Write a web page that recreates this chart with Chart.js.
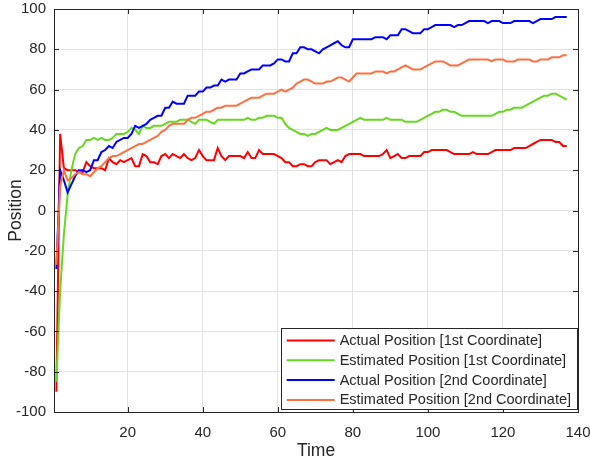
<!DOCTYPE html>
<html lang="en">
<head>
  <meta charset="UTF-8">
  <title>Position Tracking</title>
  <script src="https://cdn.jsdelivr.net/npm/chart.js"></script>
  <style>
    html, body { margin: 0; padding: 0; background: #fff; }
    canvas { display: block; }
  </style>
</head>
<body>
<canvas id="posChart" width="590" height="463"></canvas>

<script>
  // sampled positions, one value per time step starting at t = 1
  const actual1st = [
    -90, 38, 21, 20, 20, 20, 19, 19, 24, 22,
    21, 21, 21, 20, 26, 24, 23, 25, 24, 25,
    26, 22, 22, 28, 27, 24, 24, 23, 27, 28,
    26, 28, 27, 26, 28, 26, 25, 26, 30, 27,
    25, 25, 25, 31, 27, 25, 27, 27, 27, 27,
    26, 29, 26, 26, 30, 28, 28, 28, 28, 27,
    26, 24, 24, 22, 22, 23, 23, 22, 22, 24,
    25, 25, 25, 23, 24, 25, 24, 27, 28, 28,
    28, 28, 27, 27, 27, 27, 27, 28, 30, 26,
    27, 28, 26, 26, 27, 27, 27, 27, 29, 29,
    30, 30, 30, 30, 30, 29, 28, 28, 28, 28,
    28, 29, 28, 28, 28, 28, 29, 30, 30, 30,
    30, 30, 31, 31, 31, 31, 32, 33, 34, 35,
    35, 35, 35, 34, 34, 32, 32
  ];
  const estimated1st = [
    -85, -40, -12, 8, 20, 28, 31, 32, 35, 35,
    36, 35, 36, 35, 35, 36, 38, 38, 38, 39,
    41, 40, 38, 42, 41, 41, 42, 42, 42, 43,
    44, 44, 44, 45, 45, 45, 44, 43, 45, 45,
    45, 44, 43, 45, 45, 45, 45, 45, 45, 45,
    45, 46, 45, 45, 46, 46, 47, 47, 47, 46,
    46, 43, 41, 40, 39, 38, 38, 37, 38, 38,
    39, 40, 41, 40, 40, 40, 41, 42, 43, 44,
    45, 46, 45, 45, 45, 45, 45, 45, 46, 45,
    45, 45, 45, 44, 44, 44, 44, 45, 46, 47,
    48, 49, 49, 50, 50, 49, 49, 48, 47, 47,
    47, 47, 47, 47, 47, 47, 47, 48, 49, 49,
    50, 50, 51, 51, 51, 52, 53, 54, 55, 56,
    57, 57, 58, 58, 57, 56, 55
  ];
  const actual2nd = [
    -29, 20, 15, 9, 13, 17, 20, 20, 19, 20,
    25, 25, 29, 30, 32, 31, 34, 35, 36, 36,
    38, 42, 41, 42, 43, 45, 46, 47, 47, 51,
    51, 54, 53, 53, 53, 57, 57, 57, 59, 59,
    61, 61, 62, 62, 65, 64, 65, 65, 65, 68,
    68, 69, 70, 70, 70, 72, 72, 72, 73, 75,
    75, 74, 74, 78, 78, 81, 81, 80, 80, 79,
    78, 80, 81, 82, 83, 84, 82, 81, 81, 85,
    85, 85, 85, 85, 85, 86, 86, 86, 85, 87,
    87, 87, 90, 90, 89, 88, 88, 88, 90, 90,
    91, 92, 92, 92, 92, 92, 91, 92, 92, 93,
    94, 94, 94, 94, 94, 93, 94, 94, 94, 93,
    93, 93, 94, 94, 94, 94, 94, 93, 94, 95,
    95, 95, 95, 96, 96, 96, 96
  ];
  const estimated2nd = [
    -27, 12, 20, 15, 16, 18, 19, 18, 18, 17,
    19, 21, 22, 24, 26, 27, 27, 28, 29, 30,
    31, 32, 33, 33, 34, 35, 36, 37, 39, 40,
    42, 43, 43, 43, 43, 45, 46, 46, 47, 48,
    49, 49, 50, 51, 51, 52, 52, 52, 52, 53,
    54, 55, 56, 56, 56, 57, 58, 58, 58, 59,
    60, 59, 60, 61, 63, 64, 65, 65, 64, 63,
    63, 63, 64, 64, 65, 66, 66, 65, 64, 66,
    68, 68, 68, 68, 68, 69, 69, 69, 68, 69,
    69, 70, 71, 72, 71, 70, 70, 70, 71, 72,
    73, 74, 74, 74, 73, 72, 72, 72, 73, 74,
    75, 75, 75, 75, 75, 75, 74, 75, 75, 75,
    74, 74, 74, 75, 75, 75, 75, 74, 74, 75,
    75, 75, 76, 76, 76, 77, 77
  ];

  const xTicks = [20, 40, 60, 80, 100, 120, 140];
  const yTicks = [-100, -80, -60, -40, -20, 0, 20, 40, 60, 80, 100];

  const seriesNames = [
    'Actual Position [1st Coordinate]',
    'Estimated Position [1st Coordinate]',
    'Actual Position [2nd Coordinate]',
    'Estimated Position [2nd Coordinate]'
  ];
  const seriesColors = ['#ff0000', '#66d91f', '#0000ff', '#ff7040'];
  const seriesValues = [actual1st, estimated1st, actual2nd, estimated2nd];

  const FONT = "'Liberation Sans', Arial, sans-serif";
  const INK = '#262626';

  // boxed axes with inward ticks on all four sides, plus the legend
  const boxedAxes = {
    id: 'boxedAxes',
    afterDraw(chart) {
      const { ctx, chartArea: a, scales: { x, y } } = chart;
      const tick = 5;
      ctx.save();
      ctx.strokeStyle = INK;
      ctx.lineWidth = 1;
      ctx.beginPath();
      xTicks.forEach(v => {
        const px = Math.round(x.getPixelForValue(v)) + 0.5;
        ctx.moveTo(px, a.bottom); ctx.lineTo(px, a.bottom - tick);
        ctx.moveTo(px, a.top); ctx.lineTo(px, a.top + tick);
      });
      yTicks.forEach(v => {
        const py = Math.round(y.getPixelForValue(v)) + 0.5;
        ctx.moveTo(a.left, py); ctx.lineTo(a.left + tick, py);
        ctx.moveTo(a.right, py); ctx.lineTo(a.right - tick, py);
      });
      ctx.stroke();
      ctx.strokeRect(Math.round(a.left) + 0.5, Math.round(a.top) + 0.5,
                     Math.round(a.right - a.left), Math.round(a.bottom - a.top));

      // legend in the lower right corner
      ctx.font = '14.5px ' + FONT;
      const textW = Math.max(...seriesNames.map(s => ctx.measureText(s).width));
      const sample = 48, rowH = 19.8;
      const w = 6 + sample + 5 + textW + 6;
      const h = 81;
      const right = Math.round(a.right) - 1;
      const bottom = Math.round(a.bottom) - 3;
      const left = right - w, top = bottom - h;
      ctx.fillStyle = '#fff';
      ctx.fillRect(left, top, w, h);
      ctx.strokeStyle = INK;
      ctx.strokeRect(Math.round(left) + 0.5, top + 0.5, Math.round(w), h);
      ctx.textBaseline = 'middle';
      seriesNames.forEach((name, i) => {
        const cy = top + 12.5 + i * rowH;
        ctx.strokeStyle = seriesColors[i];
        ctx.lineWidth = 2;
        ctx.beginPath();
        ctx.moveTo(left + 6, cy);
        ctx.lineTo(left + 6 + sample, cy);
        ctx.stroke();
        ctx.fillStyle = INK;
        ctx.fillText(name, left + 6 + sample + 5, cy + 0.5);
      });
      ctx.restore();
    }
  };

  const datasets = seriesValues.map((vals, i) => ({
    label: seriesNames[i],
    data: vals.map((v, k) => ({ x: k + 1, y: v })),
    borderColor: seriesColors[i],
    borderWidth: 2,
    pointRadius: 0,
    tension: 0,
    fill: false,
    order: seriesValues.length - i
  }));

  new Chart(document.getElementById('posChart').getContext('2d'), {
    type: 'line',
    data: { datasets },
    options: {
      responsive: false,
      animation: false,
      layout: { padding: { left: 0, right: 12, top: 9, bottom: 0 } },
      plugins: { legend: { display: false }, tooltip: { enabled: false } },
      scales: {
        x: {
          type: 'linear',
          min: 0.37,
          max: 140,
          afterBuildTicks: axis => { axis.ticks = xTicks.map(v => ({ value: v })); },
          afterFit: axis => {
            axis.height = 51;
            axis.paddingLeft = 0;
            axis.paddingRight = 0;
          },
          grid: { color: '#e2e2e2', drawTicks: false },
          border: { display: false },
          ticks: { color: INK, font: { family: FONT, size: 15 }, padding: 12, maxRotation: 0 },
          title: { display: true, text: 'Time', color: INK, font: { family: FONT, size: 17.5 }, padding: { top: 0, bottom: 1 } }
        },
        y: {
          min: -100,
          max: 100,
          afterBuildTicks: axis => { axis.ticks = yTicks.map(v => ({ value: v })); },
          afterFit: axis => {
            axis.width = 54;
            axis.paddingTop = 0;
            axis.paddingBottom = 0;
          },
          grid: { color: '#e2e2e2', drawTicks: false },
          border: { display: false },
          ticks: { color: INK, font: { family: FONT, size: 15 }, padding: 8 },
          title: { display: true, text: 'Position', color: INK, font: { family: FONT, size: 17.5 }, padding: { top: 6, bottom: 0 } }
        }
      }
    },
    plugins: [boxedAxes]
  });
</script>
</body>
</html>
